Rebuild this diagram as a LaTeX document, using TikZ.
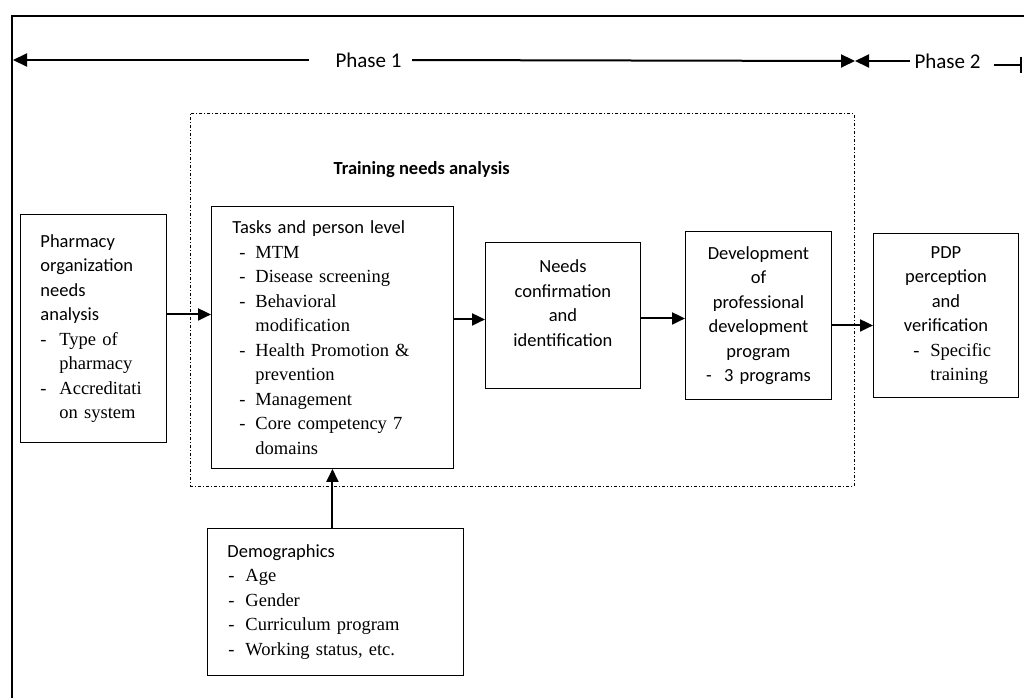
\documentclass[tikz,border=0pt]{standalone}
\usepackage{fontspec}
\setmainfont{Liberation Serif}
\newfontfamily\calf{Carlito}
\usetikzlibrary{arrows.meta}
\begin{document}
\begin{tikzpicture}[x=1pt,y=-1pt,
  box/.style={draw, line width=0.9pt, anchor=north west, inner xsep=0pt, inner ysep=0pt,
    font=\fontsize{18.5}{24.5}\selectfont},
  arr/.style={line width=2pt, -{Triangle[length=13pt,width=12pt]}},
  phasearr/.style={line width=2pt, -{Triangle[length=14pt,width=13pt]}},
  phaselbl/.style={inner sep=0pt, font=\calf\fontsize{21}{24}\selectfont},
  tnabox/.style={draw, line width=0.8pt, dash pattern=on 3pt off 2pt on 1pt off 2pt,
    anchor=north west, inner sep=0pt}
]
\useasboundingbox (0,0) rectangle (1024,697);
\fill[white] (0,0) rectangle (1024,697);

% outer frame (open at right and bottom)
\draw[line width=2pt] (12,700) -- (12,16) -- (1030,16);

% phase arrows
\node[phaselbl] (p1) at (368.5,60) {Phase 1};
\node[phaselbl] (p2) at (947.5,61) {Phase 2};
\coordinate (p1a) at (309,60);
\coordinate (p1tipL) at (13,60);
\coordinate (p1b) at (412,60);
\coordinate (mid) at (855,61);
\coordinate (p2a) at (910,61);
\coordinate (p2b) at (994,64.5);
\coordinate (p2end) at (1022,64.5);
\draw[phasearr] (p1a) -- (p1tipL);
\draw[phasearr] (p1b) -- (mid);
\draw[phasearr] (p2a) -- (mid);
\draw[line width=2pt, -{Bar[width=16pt,line width=2pt]}] (p2b) -- (p2end);

% training needs analysis dotted frame
\node[tnabox, minimum width=663.5pt, minimum height=373pt] (tna) at (190,113) {};
\node[font=\fontsize{18.5}{22}\selectfont\calf\bfseries] (tnalbl) at (421.7,170) {Training needs analysis};

% boxes
\node[box, minimum width=146pt, minimum height=228pt, text width=106pt, align=left] (org) at (20,214)
 {\calf Pharmacy\\organization\\needs\\analysis\\\rmfamily
  \makebox[19pt][l]{-}Type of\\\hspace*{19pt}pharmacy\\
  \makebox[19pt][l]{-}Accreditati\\\hspace*{19pt}on system};

\node[box, minimum width=242pt, minimum height=262pt, text width=200pt, align=left] (tasks) at (211,206)
 {\calf Tasks and person level\\\rmfamily
  \hspace*{7pt}\makebox[16pt][l]{-}MTM\\
  \hspace*{7pt}\makebox[16pt][l]{-}Disease screening\\
  \hspace*{7pt}\makebox[16pt][l]{-}Behavioral\\
  \hspace*{23pt}modification\\
  \hspace*{7pt}\makebox[16pt][l]{-}Health Promotion \&\\
  \hspace*{23pt}prevention\\
  \hspace*{7pt}\makebox[16pt][l]{-}Management\\
  \hspace*{7pt}\makebox[16pt][l]{-}Core competency 7\\
  \hspace*{23pt}domains};

\node[box, minimum width=155pt, minimum height=146pt, text width=155pt, align=center] (needs) at (485,242)
 {\calf Needs\\confirmation\\and\\identification\\\mbox{}};

\node[box, minimum width=146pt, minimum height=168pt, text width=146pt, align=center] (dev) at (685,231)
 {\calf Development\\of\\professional\\development\\program\\\makebox[18pt][l]{-}3 programs};

\node[box, minimum width=145pt, minimum height=164pt, text width=145pt, align=center] (pdp) at (873,233)
 {\calf PDP\\perception\\and\\verification\\\rmfamily
  \makebox[65pt][l]{\makebox[17pt][l]{-}Specific}\\
  \makebox[65pt][l]{\hspace*{17pt}training}};

\node[box, minimum width=256pt, minimum height=147pt, text width=216pt, align=left] (demo) at (207,528)
 {\calf Demographics\\\rmfamily
  \hspace*{1pt}\makebox[17pt][l]{-}Age\\
  \hspace*{1pt}\makebox[17pt][l]{-}Gender\\
  \hspace*{1pt}\makebox[17pt][l]{-}Curriculum program\\
  \hspace*{1pt}\makebox[17pt][l]{-}Working status, etc.};

% connectors
\draw[arr] ([yshift=14pt]org.east) coordinate (s1) -- (s1 -| tasks.west);
\draw[arr] ([yshift=-4pt]needs.west -| tasks.east) -- ([yshift=-4pt]needs.west);
\draw[arr] ([yshift=-3pt]needs.east) -- ([yshift=-3pt]needs.east -| dev.west);
\draw[arr] ([yshift=-10pt]dev.east) -- ([yshift=-10pt]dev.east -| pdp.west);
\draw[arr] (demo.north -| tasks.south) -- (tasks.south);
\end{tikzpicture}
\end{document}
